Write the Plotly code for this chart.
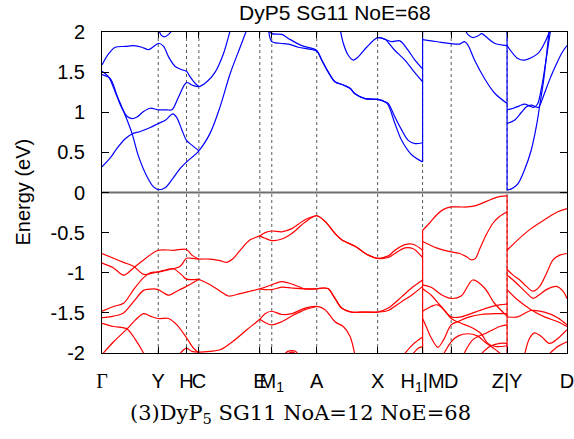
import plotly.graph_objects as go

# ---------------- k-path ticks ----------------
tick_k = [0, 56.3, 84.6, 97, 158, 170, 215, 276, 321, 349.6, 405.6, 465.6]
tick_lab = ['<span style="font-family:Liberation Serif">Γ</span>', 'Y', 'H', 'C', 'E', 'M<sub>1</sub>', 'A', 'X',
            'H<sub>1</sub>|M', 'D', 'Z|Y', 'D']
jump_k = [321, 405.6]
e_min, e_max = -2.0, 2.0
y_ticks = [-2, -1.5, -1, -0.5, 0, 0.5, 1, 1.5, 2]
y_tick_text = ['-2', '-1.5', '-1', '-0.5', '0', '0.5', '1', '1.5', '2']

# ---------------- conduction bands (eV) ----------------
c1_k = [0, 8.3, 15, 23.3, 30, 36.6, 45, 51.6, 56.3, 63.3, 70, 78.3, 84.6, 97, 108.3, 118.3, 128.3, 138.3, 145.6]
c1_e = [1.47, 1.42, 1.21, 0.96, 0.74, 0.45, 0.20, 0.07, 0.035, 0.06, 0.16, 0.30, 0.38, 0.52, 0.74, 1.07, 1.48, 1.81, 2.05]
c2_k = [0, 6.6, 13.3, 20, 25, 30, 35, 41.6, 48.3, 56.3, 65, 70, 76.6, 84.6, 90, 97, 105, 113.3, 121.6, 126.6, 129]
c2_e = [1.51, 1.44, 1.25, 1.05, 0.95, 0.92, 0.94, 1.01, 1.05, 1.03, 1.03, 1.03, 1.19, 1.37, 1.34, 1.32, 1.38, 1.50, 1.73, 1.94, 2.05]
c3_k = [0, 8.3, 15, 23.3, 30, 38.3, 48.3, 56.3, 63.3, 71, 75, 80, 84.6, 90, 97]
c3_e = [0.32, 0.43, 0.55, 0.67, 0.73, 0.76, 0.81, 0.86, 0.90, 0.98, 0.93, 0.78, 0.65, 0.59, 0.52]
c4_k = [0, 6.7, 13.3, 23.3, 31.7, 40, 46.7, 51.7, 57, 61.7, 66.7, 73.3, 80, 84.6, 88.3, 93.3, 97]
c4_e = [1.59, 1.73, 1.81, 1.82, 1.83, 1.81, 1.78, 1.82, 1.86, 1.82, 1.69, 1.57, 1.53, 1.51, 1.44, 1.36, 1.32]
c5_k = [56.3, 59.3, 62.3, 66.7, 71.7]
c5_e = [2.05, 1.96, 1.94, 1.97, 2.05]
c6a_k = [165, 170, 180, 186.6, 200, 215, 220, 226.6, 233.3, 241.6, 248.3, 253.3, 263.3, 276, 283.3, 286.6,
         293.3, 300, 306.6, 313.3, 321]
c6a_e = [2.05, 1.98, 1.97, 1.92, 1.83, 1.77, 1.65, 1.50, 1.38, 1.34, 1.30, 1.23, 1.17, 1.16, 1.13, 1.11,
         0.94, 0.78, 0.65, 0.61, 0.62]
c6b_k = [166.6, 170, 178.3, 186.6, 196.6, 215, 220, 226.6, 233.3, 241.6, 248.3, 253.3, 263.3, 276, 283.3,
         286.6, 293.3, 300, 310, 321]
c6b_e = [2.05, 1.88, 1.86, 1.85, 1.81, 1.76, 1.65, 1.50, 1.38, 1.34, 1.30, 1.23, 1.17, 1.16, 1.13,
         1.09, 0.86, 0.65, 0.47, 0.38]
c7a_k = [238.3, 241.6, 246.6, 251.6, 256.6, 265, 276, 283.3, 290, 298.3, 306.6, 313.3, 321]
c7a_e = [2.05, 1.86, 1.71, 1.65, 1.69, 1.81, 1.93, 1.91, 1.88, 1.89, 1.77, 1.65, 1.54]
c7b_k = [276, 283.3, 293.3, 303.3, 311.6, 321]
c7b_e = [1.93, 1.91, 1.77, 1.65, 1.52, 1.38]
cs2a_k = [321, 329.6, 339.6, 349.6, 358, 363, 366.3, 373, 383, 393, 405.6]
cs2a_e = [1.905, 1.89, 1.87, 1.855, 1.85, 1.88, 1.84, 1.65, 1.42, 1.24, 1.11]
cs2b_k = [363, 366.3, 371.3, 376.3, 380.3, 384.6, 393, 405.6]
cs2b_e = [2.05, 1.97, 1.93, 1.95, 1.98, 1.94, 1.86, 1.83]
cs3a_k = [405.6, 410, 416, 423, 429.6, 435, 438.5, 442, 445, 448]
cs3a_e = [0.03, 0.045, 0.10, 0.28, 0.52, 0.83, 1.10, 1.38, 1.70, 2.05]
cs3b_k = [405.6, 413, 420, 425, 430, 434, 437, 442, 448, 455, 461, 465.6]
cs3b_e = [0.86, 0.90, 1.00, 1.07, 1.09, 1.07, 1.06, 1.20, 1.40, 1.60, 1.75, 1.83]
cs3c_k = [405.6, 412, 418, 423, 428, 432, 436, 440, 444, 447, 449.5]
cs3c_e = [1.03, 1.05, 1.08, 1.10, 1.08, 1.06, 1.10, 1.30, 1.60, 1.85, 2.05]
cs3d_k = [405.6, 416.3, 423, 436.3, 443, 449.6]
cs3d_e = [1.83, 1.67, 1.65, 1.73, 1.86, 2.05]

# ---------------- valence bands (eV) ----------------
v1_k = [0, 11.6, 21.6, 31.6, 41.6, 48.3, 56.3, 68.3, 78.3, 84.6, 90, 97]
v1_e = [-0.76, -0.82, -0.87, -0.92, -1.02, -1.01, -0.99, -0.96, -0.92, -0.82, -0.82, -0.83]
v2_k = [0, 11.6, 21.6, 31.6, 41.6, 56.3, 71.6, 84.6, 90, 97]
v2_e = [-0.88, -0.94, -1.03, -0.94, -0.84, -0.72, -0.72, -0.71, -0.78, -0.83]
vt_a_k = [97, 108.3, 118.3, 125, 131.6, 138.3, 148.3, 158, 163.3, 170, 180, 190, 203.3, 215, 223.3, 233.3,
          240, 253.3, 266.6, 276, 286.6, 293.3, 303.3, 311.6, 321]
vt_a_e = [-0.83, -0.83, -0.85, -0.87, -0.82, -0.72, -0.59, -0.54, -0.50, -0.48, -0.49, -0.45, -0.34, -0.29,
          -0.36, -0.51, -0.59, -0.67, -0.78, -0.82, -0.79, -0.72, -0.65, -0.645, -0.72]
vt_b_k = [158, 163.3, 170, 180, 190, 203.3, 215, 223.3, 233.3, 240, 253.3, 266.6, 276, 286.6, 293.3, 303.3,
          311.6, 321]
vt_b_e = [-0.54, -0.57, -0.60, -0.58, -0.51, -0.37, -0.29, -0.36, -0.51, -0.59, -0.67, -0.78, -0.82, -0.81,
          -0.76, -0.69, -0.70, -0.81]
v3_k = [0, 11.6, 21.6, 31.6, 41.6, 48.3, 56.3, 65, 71.6, 80, 84.6, 97]
v3_e = [-1.48, -1.42, -1.38, -1.21, -1.06, -1.00, -0.99, -0.96, -0.95, -1.03, -1.08, -1.08]
v4_k = [0, 11.6, 21.6, 31.6, 41.6, 51.6, 56.3, 61.6, 66.6, 75, 84.6, 97]
v4_e = [-1.56, -1.54, -1.50, -1.36, -1.22, -1.20, -1.21, -1.25, -1.28, -1.23, -1.17, -1.08]
vm_a_k = [97, 108.3, 118.3, 126.6, 138.3, 148.3, 158, 163.3, 170, 180, 190, 203.3, 215, 221.6, 226.6, 233.3,
          240, 250, 263.3, 276, 286.6, 300, 310, 321]
vm_a_e = [-1.08, -1.15, -1.23, -1.29, -1.26, -1.23, -1.20, -1.18, -1.15, -1.11, -1.14, -1.20, -1.20, -1.19,
          -1.20, -1.32, -1.44, -1.49, -1.49, -1.49, -1.44, -1.30, -1.19, -1.09]
vm_b_k = [158, 163.3, 170, 180, 190, 203.3, 215, 221.6, 226.6, 233.3, 240, 250, 263.3, 276, 286.6, 300, 310, 321]
vm_b_e = [-1.20, -1.21, -1.21, -1.18, -1.19, -1.20, -1.20, -1.19, -1.20, -1.32, -1.44, -1.49, -1.49, -1.49,
          -1.47, -1.36, -1.28, -1.17]
v5_k = [0, 11.6, 25, 33.3, 41.6, 44]
v5_e = [-1.63, -1.67, -1.70, -1.83, -2.0, -2.06]
v6_k = [0, 11.6, 25, 33.3, 41.6, 48.3, 56.3, 66.6, 75, 84.6, 91.6, 97, 99]
v6_e = [-2.02, -1.86, -1.70, -1.59, -1.51, -1.54, -1.57, -1.57, -1.65, -1.81, -1.94, -2.0, -2.05]
v7_k = [76.6, 84.6, 90, 97, 108.3, 118.3, 131.6, 145, 158, 163.3, 170, 180, 190, 203.3, 215, 223.3, 233.3,
        241.6, 248.3, 253.3]
v7_e = [-2.03, -1.94, -1.98, -1.99, -1.98, -1.96, -1.85, -1.71, -1.58, -1.51, -1.48, -1.52, -1.51, -1.44,
        -1.42, -1.46, -1.61, -1.67, -1.79, -2.03]
v7b_k = [158, 163.3, 170, 180, 190, 203.3, 215]
v7b_e = [-1.58, -1.62, -1.65, -1.61, -1.54, -1.46, -1.42]
v8_k = [181.6, 186, 190, 194, 196.6]
v8_e = [-2.03, -1.98, -1.97, -1.98, -2.03]
v8b_k = [184, 190, 196]
v8b_e = [-2.03, -1.99, -2.03]
v9_k = [301.6, 311.6, 321]
v9_e = [-2.03, -1.89, -1.80]
v10_k = [310, 316.6, 321]
v10_e = [-2.03, -1.94, -1.92]
s2a_k = [321, 328, 335, 342, 349.6, 358, 366, 375, 385, 395, 405.6]
s2a_e = [-0.47, -0.38, -0.28, -0.21, -0.18, -0.18, -0.18, -0.16, -0.11, -0.06, -0.04]
s2b_k = [321, 335, 349.6, 358.3, 365, 370, 374, 378.3, 385, 391.6, 398, 405.6]
s2b_e = [-0.61, -0.69, -0.74, -0.76, -0.80, -0.84, -0.82, -0.70, -0.52, -0.38, -0.30, -0.24]
s2c_k = [321, 329.6, 339.6, 349.6, 359.6, 371.3, 383, 393, 405.6]
s2c_e = [-1.15, -1.18, -1.27, -1.32, -1.29, -1.09, -1.19, -1.38, -1.54]
s2d_k = [321, 329.6, 339.6, 349.6, 359.6, 371.6, 385, 398, 405.6]
s2d_e = [-1.20, -1.28, -1.42, -1.55, -1.55, -1.50, -1.44, -1.40, -1.39]
s2e_k = [321, 329.6, 336.3, 343, 349.6, 359.6, 369.6, 379.6, 386.3, 394.6, 405.6]
s2e_e = [-1.48, -1.42, -1.40, -1.47, -1.57, -1.63, -1.68, -1.76, -1.88, -1.92, -1.91]
s2f_k = [321, 324.6, 329.6, 336.3, 342.3, 349.6, 358, 368, 379.6, 393, 405.6]
s2f_e = [-1.57, -1.67, -1.81, -1.93, -1.83, -1.65, -1.60, -1.55, -1.52, -1.51, -1.51]
s2g_k = [361.6, 371.6, 385, 398.3, 405.6]
s2g_e = [-2.03, -1.83, -1.75, -1.67, -1.65]
s2h_k = [378.3, 388.3, 398.3, 405.6]
s2h_e = [-2.03, -1.92, -1.88, -1.88]
s2i_k = [341.3, 349.6, 356.3, 366.3, 376.3, 383, 389.6, 396.3, 401.3]
s2i_e = [-2.03, -1.86, -1.79, -1.76, -1.79, -1.86, -1.92, -1.98, -2.03]
s3a_k = [405.6, 416.3, 429.6, 443, 456.3, 465.6]
s3a_e = [-0.72, -0.59, -0.45, -0.34, -0.24, -0.20]
s3b_k = [405.6, 411.6, 418.3, 425, 431.6, 438.3, 445, 451.6, 458.3, 465.6]
s3b_e = [-0.96, -1.03, -1.09, -1.17, -1.23, -1.17, -1.01, -0.84, -0.78, -0.76]
s3c_k = [405.6, 411.6, 418.3, 426.6, 431.6, 438.3, 445, 455, 461.6, 465.6]
s3c_e = [-1.03, -1.09, -1.17, -1.27, -1.32, -1.27, -1.21, -1.17, -1.23, -1.32]
s3d_k = [405.6, 416.3, 429.6, 443, 456.3, 465.6]
s3d_e = [-1.21, -1.34, -1.46, -1.55, -1.61, -1.67]
s3e_k = [405.6, 416.3, 429.6, 443, 456.3, 465.6]
s3e_e = [-1.55, -1.55, -1.47, -1.49, -1.56, -1.65]
s3f_k = [423, 428, 433, 439.6, 448, 456.3, 465.6]
s3f_e = [-2.03, -1.82, -1.75, -1.79, -1.88, -1.82, -1.71]
s3g_k = [446.3, 456.3, 465.6]
s3g_e = [-2.03, -1.92, -1.86]

conduction = [(c1_k, c1_e), (c2_k, c2_e), (c3_k, c3_e), (c4_k, c4_e), (c5_k, c5_e), (c6a_k, c6a_e),
              (c6b_k, c6b_e), (c7a_k, c7a_e), (c7b_k, c7b_e), (cs2a_k, cs2a_e), (cs2b_k, cs2b_e),
              (cs3a_k, cs3a_e), (cs3b_k, cs3b_e), (cs3c_k, cs3c_e), (cs3d_k, cs3d_e)]
valence = [(v1_k, v1_e), (v2_k, v2_e), (vt_a_k, vt_a_e), (vt_b_k, vt_b_e), (v3_k, v3_e), (v4_k, v4_e),
           (vm_a_k, vm_a_e), (vm_b_k, vm_b_e), (v5_k, v5_e), (v6_k, v6_e), (v7_k, v7_e), (v7b_k, v7b_e),
           (v8_k, v8_e), (v8b_k, v8b_e), (v9_k, v9_e), (v10_k, v10_e), (s2a_k, s2a_e), (s2b_k, s2b_e),
           (s2c_k, s2c_e), (s2d_k, s2d_e), (s2e_k, s2e_e), (s2f_k, s2f_e), (s2g_k, s2g_e), (s2h_k, s2h_e),
           (s2i_k, s2i_e), (s3a_k, s3a_e), (s3b_k, s3b_e), (s3c_k, s3c_e), (s3d_k, s3d_e), (s3e_k, s3e_e),
           (s3f_k, s3f_e), (s3g_k, s3g_e)]

BLUE = 'rgb(0,0,255)'
RED = 'rgb(255,0,0)'
LW = 1.2

fig = go.Figure()

# dotted high-symmetry lines
for kk in tick_k[1:-1]:
    fig.add_shape(type='line', xref='x', yref='y', x0=kk, x1=kk, y0=e_min, y1=e_max,
                  line=dict(color='rgb(90,90,90)', width=1, dash='dot'), layer='below')
# Fermi level
fig.add_shape(type='line', xref='x', yref='y', x0=tick_k[0], x1=tick_k[-1], y0=0, y1=0,
              line=dict(color='rgb(110,110,110)', width=2), layer='below')


def add_band(k, e, color):
    fig.add_trace(go.Scatter(x=k, y=e, mode='lines', hoverinfo='skip', showlegend=False,
                             line=dict(color=color, width=LW, shape='spline', smoothing=0.9)))


for k, e in conduction:
    add_band(k, e, BLUE)
for k, e in valence:
    add_band(k, e, RED)

# discontinuities in the k-path: bands jump vertically
for kb in jump_k:
    ce = [e[0] for k, e in conduction if k[0] == kb] + [e[-1] for k, e in conduction if k[-1] == kb]
    ve = [e[0] for k, e in valence if k[0] == kb] + [e[-1] for k, e in valence if k[-1] == kb]
    fig.add_trace(go.Scatter(x=[kb, kb], y=[min(ce), e_max + 0.05], mode='lines', hoverinfo='skip',
                             showlegend=False, line=dict(color=BLUE, width=LW)))
    fig.add_trace(go.Scatter(x=[kb, kb], y=[max(ve), e_min - 0.05], mode='lines', hoverinfo='skip',
                             showlegend=False, line=dict(color=RED, width=LW)))

sans = 'Liberation Sans, Arial, sans-serif'
fig.update_layout(
    width=574, height=439,
    margin=dict(l=102, r=7, t=32, b=86, autoexpand=False),
    plot_bgcolor='white', paper_bgcolor='white',
    showlegend=False,
    xaxis=dict(range=[tick_k[0], tick_k[-1]], tickmode='array', tickvals=tick_k, ticktext=tick_lab,
               tickangle=0, automargin=False, ticklabeloverflow='allow',
               ticks='inside', ticklen=6, tickcolor='black', showline=True, linecolor='black', linewidth=1,
               mirror='ticks', showgrid=False, zeroline=False, ticklabelstandoff=10,
               tickfont=dict(family=sans, size=20, color='black')),
    yaxis=dict(range=[e_min, e_max], tickmode='array', tickvals=y_ticks, ticktext=y_tick_text,
               automargin=False, ticklabeloverflow='allow',
               ticks='inside', ticklen=7, tickcolor='black', showline=True, linecolor='black', linewidth=1,
               mirror='ticks', showgrid=False, zeroline=False, ticklabelstandoff=12,
               tickfont=dict(family=sans, size=20, color='black')),
    annotations=[
        dict(text='DyP5 SG11 NoE=68', xref='paper', yref='paper', x=0.5, y=1.062, xanchor='center',
             yanchor='middle', showarrow=False, font=dict(family=sans, size=21, color='black')),
        dict(text='Energy (eV)', xref='paper', yref='paper', x=-0.172, y=0.5, xanchor='center',
             yanchor='middle', textangle=-90, showarrow=False, font=dict(family=sans, size=20, color='black')),
        dict(text='(3)DyP<sub>5</sub> SG11 NoA=12 NoE=68', xref='paper', yref='paper', x=0.426, y=-0.19,
             xanchor='center', yanchor='middle', showarrow=False,
             font=dict(family='DejaVu Serif, serif', size=21, color='black')),
    ],
)

fig.write_html('out.html', config={'displayModeBar': False},
               post_script="document.body.style.margin='0px';")
